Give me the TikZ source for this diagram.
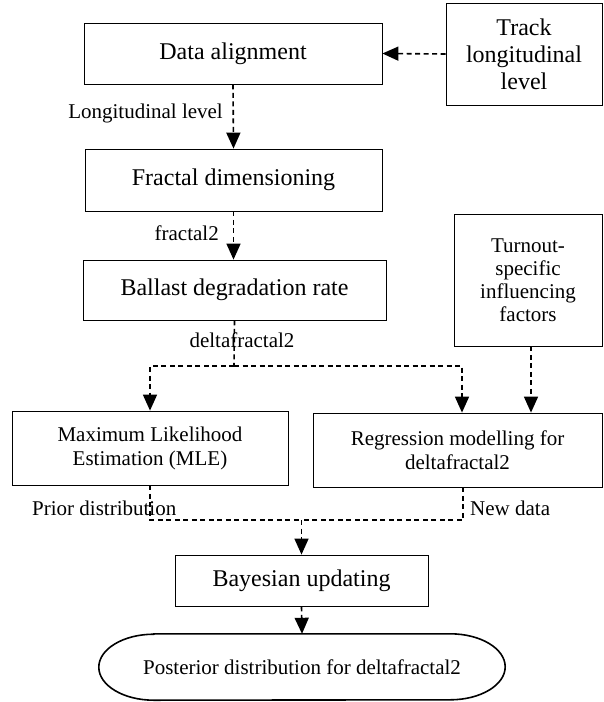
\documentclass[tikz,border=0pt]{standalone}
\usepackage{fontspec}
\setmainfont{Liberation Serif}
\usetikzlibrary{arrows.meta}
\begin{document}
\begin{tikzpicture}[x=1pt,y=-1pt,
  box/.style={draw,line width=0.8pt,inner sep=0pt,align=center,font=\fontsize{24}{27}\selectfont},
  sbox/.style={box,font=\fontsize{21}{24}\selectfont},
  lbl/.style={inner sep=0pt,font=\fontsize{21}{24}\selectfont},
  flow/.style={line width=1.6pt,dash pattern=on 5pt off 3.5pt,-{Triangle[length=16pt,width=14pt]}},
  flowline/.style={line width=1.6pt,dash pattern=on 5pt off 3.5pt}]
\useasboundingbox (0,0) rectangle (603,702);
\node[box,minimum width=298pt,minimum height=61pt] (da) at (233,53.5) {Data alignment};
\node[box,minimum width=156pt,minimum height=102pt] (track) at (524,54) {Track\\longitudinal\\level};
\node[box,minimum width=297pt,minimum height=62pt] (fd) at (233.5,180) {Fractal dimensioning};
\node[box,minimum width=303pt,minimum height=60pt] (bd) at (234.5,290) {Ballast degradation rate};
\node[box,minimum width=148pt,minimum height=132pt,font=\fontsize{21}{23}\selectfont] (tsf) at (528,280) {Turnout-\\specific\\influencing\\factors};
\node[sbox,minimum width=276pt,minimum height=74pt] (mle) at (150,448) {Maximum Likelihood\\Estimation (MLE)};
\node[sbox,minimum width=289pt,minimum height=74pt] (reg) at (457.5,450) {Regression modelling for\\deltafractal2};
\node[box,minimum width=253pt,minimum height=51pt] (bu) at (301.5,580.5) {Bayesian updating};
\node[lbl,minimum width=406pt,minimum height=66pt] (post) at (302,667) {Posterior distribution for deltafractal2};
\draw[line width=1.6pt] ([xshift=55pt]post.north west) -- ([xshift=-55pt]post.north east)
  arc[start angle=90,end angle=-90,x radius=55pt,y radius=33pt]
  -- ([xshift=55pt]post.south west)
  arc[start angle=270,end angle=90,x radius=55pt,y radius=33pt] -- cycle;
% labels
\node[lbl,anchor=east] (l1) at (223,113) {Longitudinal level};
\node[lbl,anchor=east] (l2) at (219,233) {fractal2};
\node[lbl] (l3) at (242,340) {deltafractal2};
\node[lbl,anchor=west] (l4) at (32,508) {Prior distribution};
\node[lbl,anchor=west] (l5) at (470,508) {New data};
% connectors
\coordinate (br) at (234,366);
\coordinate (m) at (301.5,520);
\draw[flow] (track.west) -- (da.east);
\draw[flow] (da.south) -- (fd.north);
\draw[flow] (fd.south) -- (fd.south |- bd.north);
\draw[flowline] (bd.south) -- (br);
\draw[flow] (br) -| (mle.north);
\draw[flow] (br) -| ([xshift=4.5pt]reg.north);
\draw[flow] ([xshift=3pt]tsf.south) -- ([xshift=3pt]tsf.south |- reg.north);
\draw[flowline] (mle.south) |- (m);
\draw[flowline] ([xshift=5.5pt]reg.south) |- (m);
\draw[flow] (m) -- (bu.north);
\draw[flow] (bu.south) -- (post.north);
\end{tikzpicture}
\end{document}
